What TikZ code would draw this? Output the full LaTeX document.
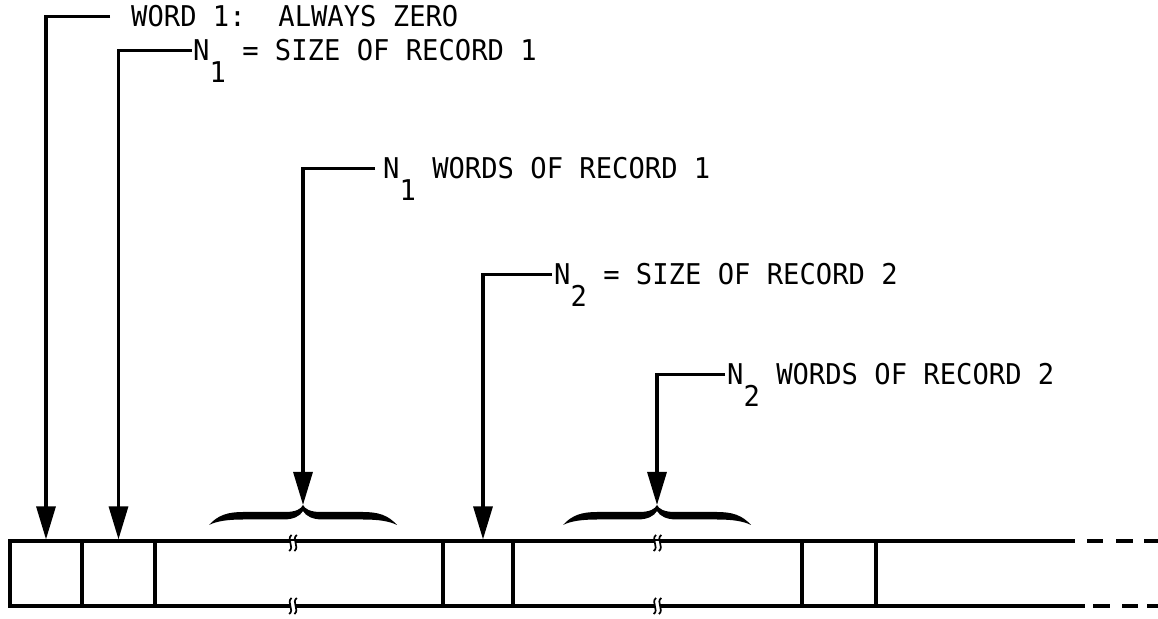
\documentclass[tikz,border=0pt]{standalone}
\usepackage{fontspec}
\newfontfamily\tw[FakeStretch=0.95]{DejaVu Sans Mono}
\usetikzlibrary{arrows.meta}
% typewriter-style subscript: a full-size digit dropped below the baseline
\newcommand\lowered[1]{\raisebox{-22pt}{#1}}
\frenchspacing

\begin{document}
\begin{tikzpicture}[x=1pt,y=1pt,
  cell/.style={draw, line width=3.2pt, minimum height=65pt, inner sep=0pt, outer sep=0pt},
  lbl/.style={anchor=base west, inner ysep=0pt, inner xsep=2pt,
              text height=21pt, text depth=0pt,
              font=\tw\fontsize{28.6pt}{32pt}\selectfont},
  lead/.style={line width=3.2pt, -{Triangle[width=19pt,length=33pt]}},
  rule/.style={line width=3.2pt},
  curly/.pic={
    \fill (-94,-20) .. controls (-85,-10) and (-75,-7) .. (-60,-7) -- (-18,-7)
      .. controls (-7,-7) and (-2,-4) .. (0,0)
      .. controls (2,-4) and (7,-7) .. (18,-7) -- (60,-7)
      .. controls (75,-7) and (85,-10) .. (94,-20)
      .. controls (86,-16) and (75,-14.5) .. (60,-14.5) -- (20,-14.5)
      .. controls (9,-14.5) and (3,-11) .. (0,-6)
      .. controls (-3,-11) and (-9,-14.5) .. (-20,-14.5) -- (-60,-14.5)
      .. controls (-75,-14.5) and (-86,-16) .. (-94,-20) -- cycle;
  },
  brk/.pic={
    \fill[white] (-2.6,-2.2) rectangle (2.6,2.2);
    \foreach \dx in {-2.6,2.6}
      \draw[line width=1.7pt] (\dx+1.2,8) .. controls (\dx-4.5,4) and (\dx+4.5,-4) .. (\dx-1.2,-8);
  }
]
\useasboundingbox[fill=white] (0,0) rectangle (1158,618);

% the record strip
\node[cell, minimum width=72pt]  (c1) at (46,44.5)    {};
\node[cell, minimum width=73pt]  (c2) at (118.5,44.5) {};
\node[cell, minimum width=288pt] (c3) at (299,44.5)   {};
\node[cell, minimum width=70pt]  (c4) at (478,44.5)   {};
\node[cell, minimum width=289pt] (c5) at (657.5,44.5) {};
\node[cell, minimum width=74pt]  (c6) at (839,44.5)   {};

% open-ended tail of the file
\draw[rule] (c6.north east) -- ++(199,0) ++(12,0) -- ++(16,0) ++(13,0) -- ++(17,0) ++(11,0) -- ++(14,0);
\draw[rule] (c6.south east) -- ++(209,0) ++(8,0) -- ++(17,0) ++(12,0) -- ++(16,0) ++(9,0) -- ++(11,0);

% break marks on the variable-length records
\pic at ([xshift=-6pt,yshift=-2pt]c3.north) {brk};
\pic at ([xshift=-6pt]c3.south) {brk};
\pic at ([yshift=-2pt]c5.north) {brk};
\pic at (c5.south) {brk};

% braces over the record bodies
\coordinate (b1) at (303,113);
\coordinate (b2) at (657,113);
\pic at (b1) {curly};
\pic at (b2) {curly};

% labels
\node[lbl, inner xsep=21pt] (l1) at (110,591) {WORD 1:\ \ ALWAYS ZERO};
\node[lbl, inner xsep=1pt]  (l2) at (192,557) {N\lowered{1} = SIZE OF RECORD 1};
\node[lbl, inner xsep=8pt]  (l3) at (375,439) {N\lowered{1} WORDS OF RECORD 1};
\node[lbl]                  (l4) at (552,333) {N\lowered{2} = SIZE OF RECORD 2};
\node[lbl]                  (l5) at (725,233) {N\lowered{2} WORDS OF RECORD 2};

% leaders
\draw[lead, shorten >=1.6pt] (l1.west) -| (c1.north);
\draw[lead, shorten >=1.6pt] (l2.west) -| (c2.north);
\draw[lead] (l3.west) -| (b1);
\draw[lead, shorten >=1.6pt] (l4.west) -| ([xshift=5pt]c4.north);
\draw[lead] (l5.west) -| (b2);
\end{tikzpicture}
\end{document}
